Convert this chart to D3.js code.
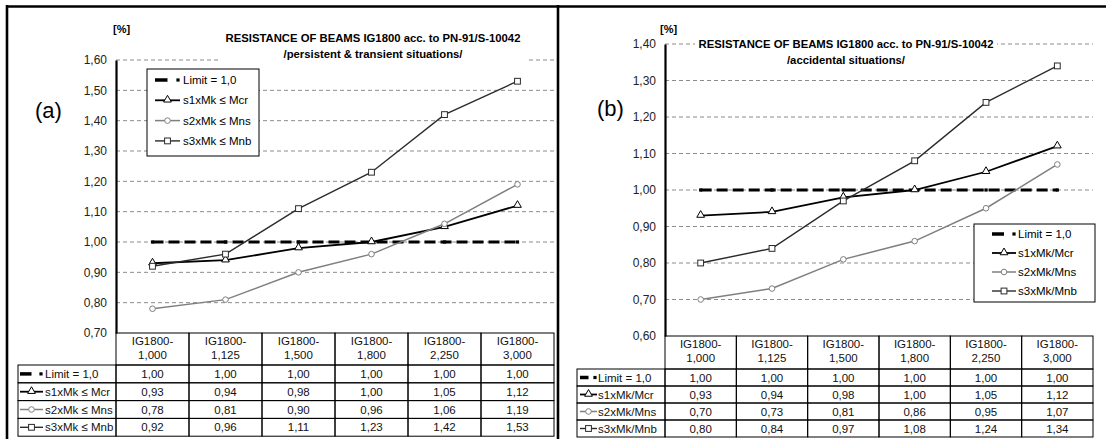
<!DOCTYPE html>
<html>
<head>
<meta charset="utf-8">
<script src="https://cdn.jsdelivr.net/npm/d3@7"></script>
<style>
  body { margin: 0; background: #fff; }
  svg { font-family: "Liberation Sans", Arial, sans-serif; }
</style>
</head>
<body>
<svg id="chart" width="1106" height="439"></svg>
<script>
// categories (beam variants)
const categories = ["IG1800-1,000", "IG1800-1,125", "IG1800-1,500", "IG1800-1,800", "IG1800-2,250", "IG1800-3,000"];

// (a) persistent & transient
const limitA = [1.00, 1.00, 1.00, 1.00, 1.00, 1.00];
const s1A = [0.93, 0.94, 0.98, 1.00, 1.05, 1.12];
const s2A = [0.78, 0.81, 0.90, 0.96, 1.06, 1.19];
const s3A = [0.92, 0.96, 1.11, 1.23, 1.42, 1.53];
const namesA = ["Limit = 1,0", "s1xMk \u2264 Mcr", "s2xMk \u2264 Mns", "s3xMk \u2264 Mnb"];

// (b) accidental
const limitB = [1.00, 1.00, 1.00, 1.00, 1.00, 1.00];
const s1B = [0.93, 0.94, 0.98, 1.00, 1.05, 1.12];
const s2B = [0.70, 0.73, 0.81, 0.86, 0.95, 1.07];
const s3B = [0.80, 0.84, 0.97, 1.08, 1.24, 1.34];
const namesB = ["Limit = 1,0", "s1xMk/Mcr", "s2xMk/Mns", "s3xMk/Mnb"];

const titleText = "RESISTANCE OF BEAMS IG1800 acc. to PN-91/S-10042";
const subA = "/persistent & transient situations/";
const subB = "/accidental situations/";
const yDomainA = [0.70, 1.60];
const yDomainB = [0.60, 1.40];

// line styles, one per series (limit, s1, s2, s3)
const styles = [
  { stroke: "#000", width: 3, dash: "11,5", marker: "dot" },
  { stroke: "#000", width: 1.8, dash: null, marker: "tri" },
  { stroke: "#7f7f7f", width: 1.5, dash: null, marker: "circ" },
  { stroke: "#2b2b2b", width: 1.4, dash: null, marker: "sq" }
];

const fmt = v => d3.format(".2f")(v).replace(".", ",");
const svg = d3.select("#chart");

function marker(g, type, x, y, color) {
  if (type == "dot") {
    g.append("rect").attr("x", x - 1.6).attr("y", y - 1.6).attr("width", 3.2).attr("height", 3.2).attr("fill", "#000");
  } else if (type == "tri") {
    g.append("path").attr("d", d3.symbol(d3.symbolTriangle, 26)())
      .attr("transform", "translate(" + x + "," + (y - 0.5) + ")")
      .attr("fill", "#fff").attr("stroke", color).attr("stroke-width", 1);
  } else if (type == "circ") {
    g.append("circle").attr("cx", x).attr("cy", y).attr("r", 2.8)
      .attr("fill", "#fff").attr("stroke", color).attr("stroke-width", 1);
  } else {
    g.append("rect").attr("x", x - 2.9).attr("y", y - 2.9).attr("width", 5.8).attr("height", 5.8)
      .attr("fill", "#fff").attr("stroke", color).attr("stroke-width", 1);
  }
}

// legend key: short line + marker
function key(g, i, x0, x1, y) {
  const st = styles[i];
  if (i == 0) {
    g.append("line").attr("x1", x0).attr("x2", x0 + (x1 - x0) * 0.5).attr("y1", y).attr("y2", y)
      .attr("stroke", "#000").attr("stroke-width", 3.5);
    marker(g, "dot", x1 - 2, y, "#000");
  } else {
    g.append("line").attr("x1", x0).attr("x2", x1).attr("y1", y).attr("y2", y)
      .attr("stroke", st.stroke).attr("stroke-width", st.width);
    marker(g, st.marker, (x0 + x1) / 2, y, st.stroke);
  }
}

function panel(c) {
  const g = svg.append("g");
  const x = d3.scaleBand().domain(categories).range([c.x0, c.x1]);
  const y = d3.scaleLinear().domain(c.domain).range([c.yBot, c.yTop]);
  const ticks = y.ticks(c.nTicks);

  // gridlines
  g.selectAll(".grid").data(ticks.slice(1)).enter().append("line")
    .attr("x1", c.x0).attr("x2", c.x1)
    .attr("y1", d => y(d)).attr("y2", d => y(d))
    .attr("stroke", "#8c8c8c").attr("stroke-width", 1).attr("stroke-dasharray", "4,3");

  // title with white background
  g.append("rect").attr("x", c.titleBg[0]).attr("y", c.titleBg[1]).attr("width", c.titleBg[2]).attr("height", c.titleBg[3]).attr("fill", "#fff");
  g.append("text").attr("x", c.titleX).attr("y", c.titleY).attr("text-anchor", "middle")
    .attr("font-weight", "bold").attr("font-size", 11.3).text(titleText);
  g.append("text").attr("x", c.titleX).attr("y", c.titleY + 16).attr("text-anchor", "middle")
    .attr("font-weight", "bold").attr("font-size", 11.3).text(c.sub);

  g.append("text").attr("x", c.pct[0]).attr("y", c.pct[1]).attr("font-weight", "bold").attr("font-size", 11).text("[%]");
  g.append("text").attr("x", c.tag[0]).attr("y", c.tag[1]).attr("font-size", 22).text(c.tagText);

  // y axis
  const ax = g.append("g").attr("transform", "translate(" + c.x0 + ",0)")
    .call(d3.axisLeft(y).tickValues(ticks).tickSize(0).tickPadding(9).tickFormat(fmt));
  ax.select(".domain").attr("stroke", "#000").attr("stroke-width", 2.2);
  ax.selectAll("text").attr("font-size", 12).attr("fill", "#222").attr("font-family", "Liberation Sans, Arial, sans-serif");

  // series
  c.series.forEach((vals, i) => {
    const st = styles[i];
    const line = d3.line().x((d, j) => x(categories[j]) + x.bandwidth() / 2).y(d => y(d));
    g.append("path").attr("d", line(vals)).attr("fill", "none")
      .attr("stroke", st.stroke).attr("stroke-width", st.width)
      .attr("stroke-dasharray", st.dash);
    vals.forEach((v, j) => marker(g, st.marker, x(categories[j]) + x.bandwidth() / 2, y(v), st.stroke));
  });

  // legend box
  const L = c.legend;
  g.append("rect").attr("x", L.x).attr("y", L.y).attr("width", L.w).attr("height", L.h)
    .attr("fill", "#fff").attr("stroke", "#000").attr("stroke-width", 1);
  c.names.forEach((nm, i) => {
    const yy = L.row0 + i * L.step;
    key(g, i, L.kx0, L.kx1, yy);
    g.append("text").attr("x", L.tx).attr("y", yy).attr("dy", "0.35em").attr("font-size", 11.5).text(nm);
  });

  // data table
  const T = c.table;
  const tb = g.append("g").attr("font-size", 11.5).attr("fill", "#111");
  const rowY = i => T.top + T.headH + i * T.rowH;
  // header cells
  categories.forEach(cat => {
    tb.append("rect").attr("x", x(cat)).attr("y", T.top).attr("width", x.bandwidth()).attr("height", T.headH)
      .attr("fill", "none").attr("stroke", "#000").attr("stroke-width", 1);
    const parts = cat.split("-");
    tb.append("text").attr("x", x(cat) + x.bandwidth() / 2).attr("y", T.top + 12).attr("text-anchor", "middle").text(parts[0] + "-");
    tb.append("text").attr("x", x(cat) + x.bandwidth() / 2).attr("y", T.top + 26).attr("text-anchor", "middle").text(parts[1]);
  });
  c.series.forEach((vals, i) => {
    const yy = rowY(i);
    tb.append("rect").attr("x", T.left).attr("y", yy).attr("width", c.x0 - T.left).attr("height", T.rowH)
      .attr("fill", "none").attr("stroke", "#000").attr("stroke-width", 1);
    key(tb, i, T.kx0, T.kx1, yy + T.rowH / 2);
    tb.append("text").attr("x", T.tx).attr("y", yy + T.rowH / 2).attr("dy", "0.35em").text(c.names[i]);
    vals.forEach((v, j) => {
      tb.append("rect").attr("x", x(categories[j])).attr("y", yy).attr("width", x.bandwidth()).attr("height", T.rowH)
        .attr("fill", "none").attr("stroke", "#000").attr("stroke-width", 1);
      tb.append("text").attr("x", x(categories[j]) + x.bandwidth() / 2).attr("y", yy + T.rowH / 2)
        .attr("dy", "0.35em").attr("text-anchor", "middle").text(fmt(v));
    });
  });
}

panel({
  x0: 116, x1: 554, yTop: 60, yBot: 333, domain: yDomainA, nTicks: 9,
  series: [limitA, s1A, s2A, s3A], names: namesA, sub: subA,
  titleX: 373, titleY: 42, titleBg: [220, 28, 307, 35],
  pct: [113, 33], tag: [35, 118], tagText: "(a)",
  legend: { x: 147, y: 69, w: 112, h: 87, row0: 80, step: 20.3, kx0: 155, kx1: 180, tx: 183 },
  table: { top: 333, headH: 32, rowH: 17.8, left: 18, kx0: 20, kx1: 43, tx: 45 }
});

panel({
  x0: 665, x1: 1093, yTop: 44, yBot: 336, domain: yDomainB, nTicks: 8,
  series: [limitB, s1B, s2B, s3B], names: namesB, sub: subB,
  titleX: 846, titleY: 48, titleBg: [695, 34, 302, 34],
  pct: [660, 33], tag: [597, 116], tagText: "(b)",
  legend: { x: 974, y: 224, w: 121, h: 78, row0: 234, step: 19, kx0: 992, kx1: 1016, tx: 1018 },
  table: { top: 336, headH: 33, rowH: 17, left: 577, kx0: 580, kx1: 597, tx: 598 }
});

// outer frame
const frame = svg.append("g").attr("stroke", "#000").attr("stroke-width", 2.6);
frame.append("line").attr("x1", 6).attr("x2", 1106).attr("y1", 6.5).attr("y2", 6.5);
frame.append("line").attr("x1", 7).attr("x2", 7).attr("y1", 5).attr("y2", 439);
frame.append("line").attr("x1", 558).attr("x2", 558).attr("y1", 5).attr("y2", 439);
</script>
</body>
</html>
